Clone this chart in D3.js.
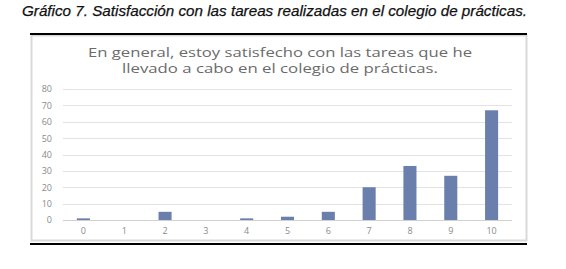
<!DOCTYPE html>
<html><head><meta charset="utf-8">
<script src="https://cdn.jsdelivr.net/npm/d3@7"></script>
<style>body{margin:0;background:#fff}</style>
</head><body>
<script>
const categories = ["0","1","2","3","4","5","6","7","8","9","10"];
const values = [1,0,5,0,1,2,5,20,33,27,67];
const yTicks = [0,10,20,30,40,50,60,70,80];
const caption = "Gráfico 7. Satisfacción con las tareas realizadas en el colegio de prácticas.";
const titleLines = ["En general, estoy satisfecho con las tareas que he","llevado a cabo en el colegio de prácticas."];
const titleWidths = [384,316];

const svg = d3.select("body").append("svg").attr("width",566).attr("height",269);

svg.append("text").attr("x",22).attr("y",16)
  .attr("font-family","'Liberation Sans Narrow','Arial Narrow',sans-serif")
  .attr("font-style","italic").attr("font-size",15.5).attr("fill","#111")
  .attr("stroke","#111").attr("stroke-width",0.25)
  .attr("textLength",505).attr("lengthAdjust","spacingAndGlyphs")
  .text(caption);

// frame
svg.append("rect").attr("x",31.5).attr("y",35.5).attr("width",495).attr("height",205)
  .attr("fill","#fff").attr("stroke","#d9d9d9").attr("stroke-width",2);
svg.append("line").attr("x1",30).attr("x2",527).attr("y1",34).attr("y2",34).attr("stroke","#000").attr("stroke-width",2);
svg.append("line").attr("x1",30).attr("x2",527).attr("y1",244).attr("y2",244).attr("stroke","#000").attr("stroke-width",2);

svg.selectAll("text.title").data(titleLines).enter().append("text")
  .attr("x",280).attr("y",(d,i)=>56.5+i*16.5).attr("text-anchor","middle")
  .attr("font-family","'Open Sans',sans-serif").attr("font-size",12.2).attr("fill","#6b6b6b")
  .attr("textLength",(d,i)=>titleWidths[i]).attr("lengthAdjust","spacingAndGlyphs")
  .text(d=>d);

const x = d3.scaleBand().domain(categories).range([63,512]).paddingInner(0.68).paddingOuter(0.34);
const y = d3.scaleLinear().domain([0,80]).range([220,89]);

const g = svg.append("g");
g.selectAll("line.grid").data(yTicks).enter().append("line")
  .attr("x1",63).attr("x2",512).attr("y1",d=>Math.round(y(d))+0.5).attr("y2",d=>Math.round(y(d))+0.5)
  .attr("stroke",d=>d===0?"#d0d0d0":"#e3e3e3").attr("stroke-width",1.2);

const yAxis = d3.axisLeft(y).tickValues(yTicks).tickSize(0).tickPadding(0);
const ya = svg.append("g").attr("transform","translate(52,0)").call(yAxis);
ya.select(".domain").remove();
ya.selectAll("text").attr("font-family","'Open Sans',sans-serif").attr("font-size",9).attr("fill","#8a8a8a");

g.selectAll("rect.bar").data(values).enter().append("rect")
  .attr("x",(d,i)=>x(categories[i])).attr("width",x.bandwidth())
  .attr("y",d=>y(d)).attr("height",d=>y(0)-y(d))
  .attr("fill","#6a7fab");

const xAxis = d3.axisBottom(x).tickSize(0).tickPadding(8);
const xa = svg.append("g").attr("transform","translate(0,220)").call(xAxis);
xa.select(".domain").remove();
xa.selectAll("text").attr("font-family","'Open Sans',sans-serif").attr("font-size",9).attr("fill","#8a8a8a");
</script>
</body></html>
